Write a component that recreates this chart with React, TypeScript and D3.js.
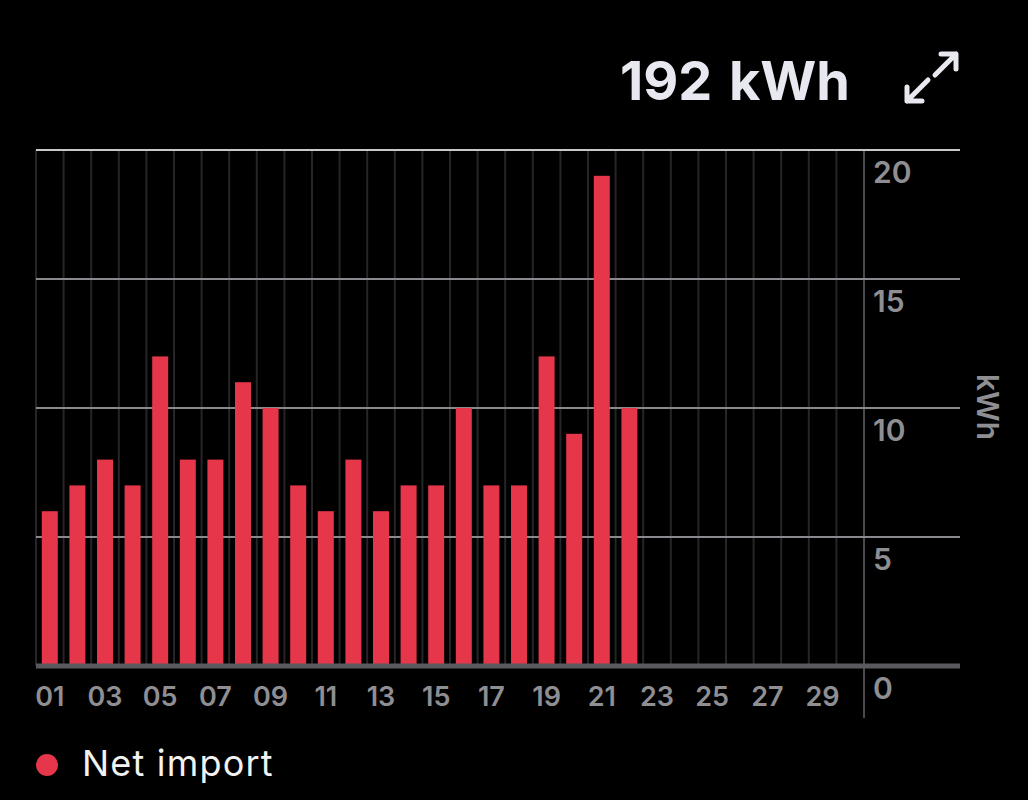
import { useEffect, useRef } from 'react';
import * as d3 from 'd3';

const days = d3.range(1, 31);
const netImport = [6, 7, 8, 7, 12, 8, 8, 11, 10, 7, 6, 8, 6, 7, 7, 10, 7, 7, 12, 9, 19, 10];
const yTicks = [0, 5, 10, 15, 20];
const xTickDays = days.filter(d => d % 2 === 1);
const totalLabel = '192';
const unitLabel = 'kWh';
const legendLabel = 'Net import';

const WIDTH = 1028;
const HEIGHT = 800;
const FONT = 'Inter, "Open Sans", sans-serif';
const BAR_COLOR = '#e5364a';
const LABEL_GRAY = '#8e8e93';

export default function App() {
  const svgRef = useRef<SVGSVGElement>(null);

  useEffect(() => {
    if (!svgRef.current) return;
    const svg = d3.select(svgRef.current);
    svg.selectAll('*').remove();

    const left = 36;
    const right = 864;
    const top = 150;
    const bottom = 666;
    const gridRight = 960;

    svg.append('rect')
      .attr('width', WIDTH)
      .attr('height', HEIGHT)
      .attr('fill', '#000');

    const x = d3.scaleBand<number>()
      .domain(days)
      .range([left, right])
      .paddingInner(0.42)
      .paddingOuter(0.21);

    const y = d3.scaleLinear()
      .domain([0, 20])
      .range([bottom, top]);

    const gap = (x.step() - x.bandwidth()) / 2;

    // vertical day separators
    svg.append('g')
      .selectAll('line')
      .data(days)
      .join('line')
      .attr('x1', d => x(d)! - gap)
      .attr('x2', d => x(d)! - gap)
      .attr('y1', top)
      .attr('y2', bottom)
      .attr('stroke', '#262628')
      .attr('stroke-width', 2);

    // right axis line
    svg.append('line')
      .attr('x1', right)
      .attr('x2', right)
      .attr('y1', top)
      .attr('y2', 718)
      .attr('stroke', '#4a4a4e')
      .attr('stroke-width', 2);

    // horizontal grid
    svg.append('g')
      .selectAll('line')
      .data(yTicks.filter(t => t > 0))
      .join('line')
      .attr('x1', left)
      .attr('x2', gridRight)
      .attr('y1', d => y(d))
      .attr('y2', d => y(d))
      .attr('stroke', d => (d === 20 ? '#c8c8cc' : '#8a8a8e'))
      .attr('stroke-width', 2);

    // bars
    svg.append('g')
      .selectAll('rect')
      .data(netImport)
      .join('rect')
      .attr('x', (_, i) => x(days[i])!)
      .attr('width', x.bandwidth())
      .attr('y', d => y(d))
      .attr('height', d => y(0) - y(d))
      .attr('fill', BAR_COLOR);

    // baseline
    svg.append('line')
      .attr('x1', left)
      .attr('x2', gridRight)
      .attr('y1', y(0))
      .attr('y2', y(0))
      .attr('stroke', '#5a5a5e')
      .attr('stroke-width', 5);

    // y tick labels
    svg.append('g')
      .selectAll('text')
      .data(yTicks)
      .join('text')
      .attr('x', 873)
      .attr('y', d => y(d) + 33)
      .attr('fill', LABEL_GRAY)
      .attr('font-family', FONT)
      .attr('font-size', 30)
      .attr('font-weight', 600)
      .text(d => String(d));

    // x tick labels
    svg.append('g')
      .selectAll('text')
      .data(xTickDays)
      .join('text')
      .attr('x', d => x(d)! + x.bandwidth() / 2)
      .attr('y', 706)
      .attr('text-anchor', 'middle')
      .attr('fill', LABEL_GRAY)
      .attr('font-family', FONT)
      .attr('font-size', 27)
      .attr('font-weight', 600)
      .text(d => String(d).padStart(2, '0'));

    // y axis unit
    svg.append('text')
      .attr('transform', 'translate(977,407) rotate(90)')
      .attr('text-anchor', 'middle')
      .attr('fill', LABEL_GRAY)
      .attr('font-family', FONT)
      .attr('font-size', 30)
      .attr('font-weight', 600)
      .text(unitLabel);

    // title
    svg.append('text')
      .attr('x', 620)
      .attr('y', 100)
      .attr('fill', '#e8e8f0')
      .attr('font-family', FONT)
      .attr('font-size', 54)
      .attr('font-weight', 700)
      .text(totalLabel);
    svg.append('text')
      .attr('x', 850)
      .attr('y', 100)
      .attr('text-anchor', 'end')
      .attr('fill', '#e8e8f0')
      .attr('font-family', FONT)
      .attr('font-size', 54)
      .attr('font-weight', 700)
      .text(unitLabel);

    // expand icon
    const icon = svg.append('g')
      .attr('fill', 'none')
      .attr('stroke', '#e8e8f0')
      .attr('stroke-width', 5)
      .attr('stroke-linecap', 'round')
      .attr('stroke-linejoin', 'round');
    icon.append('path').attr('d', 'M907,87 L907,101 L922,101 M907,101 L928,80');
    icon.append('path').attr('d', 'M941,54 L956,54 L956,69 M956,54 L935,75');

    // legend
    svg.append('circle')
      .attr('cx', 47)
      .attr('cy', 765)
      .attr('r', 11)
      .attr('fill', BAR_COLOR);
    svg.append('text')
      .attr('x', 82)
      .attr('y', 776)
      .attr('fill', '#f2f2f2')
      .attr('font-family', FONT)
      .attr('font-size', 36)
      .attr('font-weight', 400)
      .attr('letter-spacing', 1.2)
      .text(legendLabel);
  }, []);

  return (
    <svg
      ref={svgRef}
      width={WIDTH}
      height={HEIGHT}
      style={{ position: 'absolute', left: 0, top: 0, display: 'block' }}
    />
  );
}
